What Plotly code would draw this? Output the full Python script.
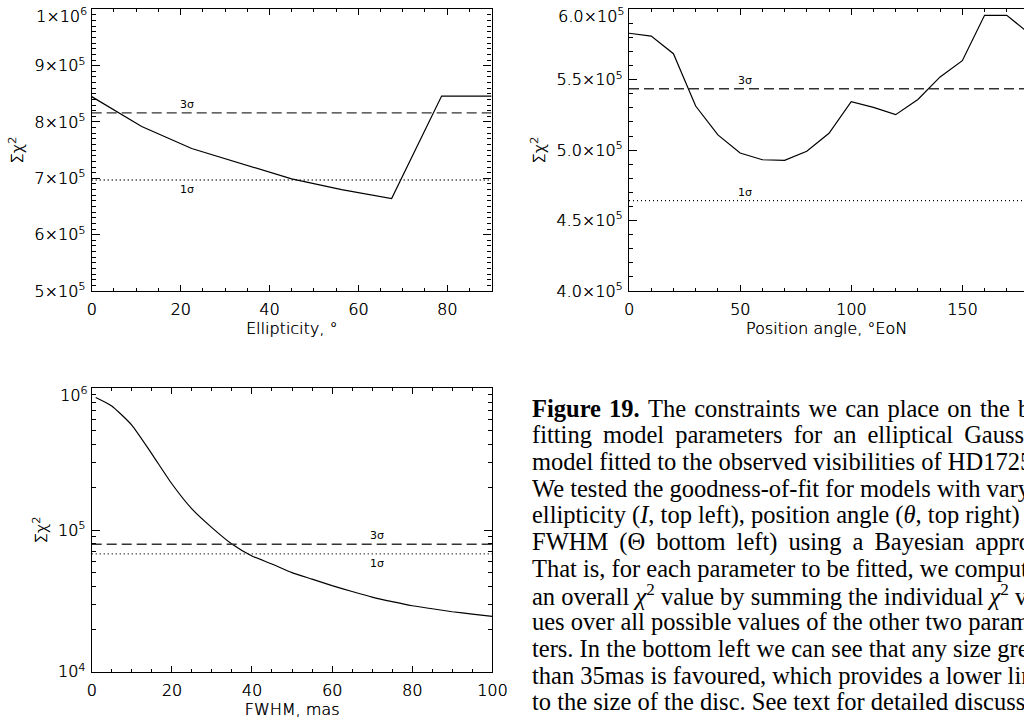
import math
import plotly.graph_objects as go

W, H = 1024, 722

# Ellipticity scan (degrees) and summed chi-squared
ell_deg = [0, 11.25, 22.5, 33.75, 45, 56.25, 67.5, 78.75, 90]
ell_chi2 = [8.45e5, 7.92e5, 7.53e5, 7.26e5, 6.99e5, 6.80e5, 6.64e5, 8.46e5, 8.46e5]
ell_sig3, ell_sig1 = 8.16e5, 6.97e5

# Position angle scan (degrees E of N)
pa_deg = [0, 10, 20, 30, 40, 50, 60, 70, 80, 90, 100, 110, 120, 130, 140, 150, 160, 170, 180]
pa_chi2 = [5.83e5, 5.81e5, 5.685e5, 5.313e5, 5.108e5, 4.98e5, 4.932e5, 4.928e5, 4.992e5,
           5.12e5, 5.344e5, 5.304e5, 5.252e5, 5.36e5, 5.52e5, 5.635e5, 5.957e5, 5.957e5, 5.83e5]
pa_sig3, pa_sig1 = 5.436e5, 4.641e5

# FWHM scan (mas)
fwhm_mas = [1, 5, 10, 15, 20, 25, 30, 35, 40, 45, 50, 55, 60, 65, 70, 75, 80, 85, 90, 95, 100]
fwhm_chi2 = [8.6e5, 7.5e5, 5.5e5, 3.45e5, 2.12e5, 1.41e5, 1.04e5, 7.96e4, 6.55e4, 5.76e4, 5.0e4,
             4.5e4, 4.05e4, 3.68e4, 3.36e4, 3.12e4, 2.92e4, 2.78e4, 2.65e4, 2.55e4, 2.46e4]
fwhm_sig3, fwhm_sig1 = 7.93e4, 6.78e4

# Tick labels (the topmost label of each panel is drawn separately, nudged inside)
ell_yticks = [5e5, 6e5, 7e5, 8e5, 9e5, 1e6]
ell_yticktext = ["5×10<sup>5</sup>", "6×10<sup>5</sup>", "7×10<sup>5</sup>",
                 "8×10<sup>5</sup>", "9×10<sup>5</sup>", "1×10<sup>6</sup>"]
pa_yticks = [4.0e5, 4.5e5, 5.0e5, 5.5e5, 6.0e5]
pa_yticktext = ["4.0×10<sup>5</sup>", "4.5×10<sup>5</sup>", "5.0×10<sup>5</sup>",
                "5.5×10<sup>5</sup>", "6.0×10<sup>5</sup>"]
fwhm_yticks = [1e4, 1e5, 1e6]
fwhm_yticktext = ["10<sup>4</sup>", "10<sup>5</sup>", "10<sup>6</sup>"]
fwhm_yminor = [m * 10 ** e for e in (4, 5) for m in range(2, 10)]

# Caption, one entry per typeset line; the second value widens word gaps
# to imitate the justified column.
caption_lines = [
    ("<b>Figure 19.</b> The constraints we can place on the best-", "\u200a"),
    ("fitting model parameters for an elliptical Gaussian", "\u2009"),
    ("model fitted to the observed visibilities of HD172555.", ""),
    ("We tested the goodness-of-fit for models with varying", ""),
    ("ellipticity (<i>I</i>, top left), position angle (<i>θ</i>, top right) and", ""),
    ("FWHM (Θ bottom left) using a Bayesian approach.", "\u2009"),
    ("That is, for each parameter to be fitted, we computed", ""),
    ("an overall <i>χ</i><sup>2</sup> value by summing the individual <i>χ</i><sup>2</sup> val-", ""),
    ("ues over all possible values of the other two parame-", ""),
    ("ters. In the bottom left we can see that any size greater", ""),
    ("than 35mas is favoured, which provides a lower limit", ""),
    ("to the size of the disc. See text for detailed discussion.", ""),
]

SANS = "DejaVu Sans"
SERIF = "Liberation Serif"
LIGHT = dict(family=SANS, size=16, color="black", weight=200, shadow="0.35px 0px 0px black")

fig = go.Figure()


def curve(x, y, xa, ya):
    fig.add_trace(go.Scatter(x=x, y=y, mode="lines", xaxis=xa, yaxis=ya,
                             line=dict(color="black", width=1.2), showlegend=False))


def level(xr, val, xa, ya, dash, color):
    fig.add_trace(go.Scatter(x=xr, y=[val, val], mode="lines", xaxis=xa, yaxis=ya,
                             line=dict(color=color, width=1.3, dash=dash), showlegend=False))


DASH = "10px,5px"
DOT = "1px,3px"

curve(ell_deg, ell_chi2, "x", "y")
level([0, 90], ell_sig3, "x", "y", DASH, "#333")
level([0, 90], ell_sig1, "x", "y", DOT, "black")

curve(pa_deg, pa_chi2, "x2", "y2")
level([0, 180], pa_sig3, "x2", "y2", DASH, "#333")
level([0, 180], pa_sig1, "x2", "y2", DOT, "black")

fig.add_trace(go.Scatter(x=fwhm_mas, y=fwhm_chi2, mode="lines", xaxis="x3", yaxis="y3",
                         line=dict(color="black", width=1.2, shape="spline", smoothing=0.5),
                         showlegend=False))
level([0, 100], fwhm_sig3, "x3", "y3", DASH, "#333")
level([0, 100], fwhm_sig1, "x3", "y3", DOT, "black")


def xaxis_cfg(dom, anchor, rng, dtick, mdtick, title, mirror=True):
    return dict(domain=dom, anchor=anchor, range=rng, dtick=dtick, tick0=0, automargin=False,
                ticks="inside", ticklen=6, tickwidth=1, tickcolor="black",
                minor=dict(dtick=mdtick, tick0=0, ticks="inside", ticklen=3, tickcolor="black"),
                showline=True, linecolor="black", linewidth=1.3, mirror="allticks" if mirror else False,
                showgrid=False, zeroline=False, tickfont=LIGHT, ticklabelstandoff=4,
                ticklabeloverflow="allow",
                title=dict(text=title, font=LIGHT, standoff=4))


def yaxis_cfg(dom, anchor, rng, vals, text, minor, typ="linear", mirror=True):
    # leave the top label blank; it is placed as an annotation below
    return dict(domain=dom, anchor=anchor, range=rng, type=typ, automargin=False,
                tickmode="array", tickvals=vals, ticktext=text[:-1] + [""],
                ticks="inside", ticklen=8, tickwidth=1, tickcolor="black",
                minor=dict(ticks="inside", ticklen=4, tickcolor="black", **minor),
                showline=True, linecolor="black", linewidth=1.3, mirror="allticks" if mirror else False,
                showgrid=False, zeroline=False, tickfont=LIGHT, ticklabelstandoff=2,
                ticklabeloverflow="allow",
                title=dict(text="Σχ<sup>2</sup>", font=LIGHT, standoff=6))


top = [1 - 291 / H, 1 - 9.3 / H]
bot = [1 - 671.7 / H, 1 - 388.3 / H]

fig.update_layout(
    width=W, height=H, margin=dict(l=0, r=0, t=0, b=0, autoexpand=False),
    paper_bgcolor="white", plot_bgcolor="white",
    xaxis=xaxis_cfg([91.7 / W, 491.6 / W], "y", [0, 90], 20, 5, "Ellipticity, °"),
    yaxis=yaxis_cfg(top, "x", [5e5, 1e6], ell_yticks, ell_yticktext, dict(dtick=1e4, tick0=0)),
    xaxis2=xaxis_cfg([629 / W, 1.0], "y2", [0, 177.75], 50, 10, "Position angle, °EoN"),
    yaxis2=yaxis_cfg(top, "x2", [4e5, 6e5], pa_yticks, pa_yticktext, dict(dtick=1e4, tick0=0),
                     mirror=False),
    yaxis4=dict(overlaying="y2", anchor="free", position=1.0, side="right", range=[4e5, 6e5],
                tickmode="array", tickvals=pa_yticks, showticklabels=False, automargin=False,
                ticks="inside", ticklen=3, tickcolor="black", showline=False, showgrid=False,
                zeroline=False),
    xaxis3=xaxis_cfg([91.7 / W, 492.3 / W], "y3", [0, 100], 20, 5, "FWHM, mas"),
    yaxis3=yaxis_cfg(bot, "x3", [4, 6], fwhm_yticks, fwhm_yticktext,
                     dict(tickmode="array", tickvals=fwhm_yminor), typ="log"),
)

# topmost y tick labels, nudged just below their tick so they stay on the page
for xa, ya, yv, txt in [("x", "y", ell_yticks[-1], ell_yticktext[-1]),
                        ("x2", "y2", pa_yticks[-1], pa_yticktext[-1]),
                        ("x3", "y3", math.log10(fwhm_yticks[-1]), fwhm_yticktext[-1])]:
    fig.add_annotation(x=0, y=yv, xref=xa, yref=ya, text=txt, showarrow=False,
                       xanchor="right", yanchor="middle", xshift=-3, yshift=-6, font=LIGHT)

# sigma level labels
sig_font = dict(family=SANS, size=11, color="black")
labels = [
    ("x", "y", 21.4, ell_sig3, "3σ", "bottom"),
    ("x", "y", 21.4, ell_sig1, "1σ", "top"),
    ("x2", "y2", 52.2, pa_sig3, "3σ", "bottom"),
    ("x2", "y2", 52.2, pa_sig1, "1σ", "bottom"),
    ("x3", "y3", 71.1, fwhm_sig3, "3σ", "bottom"),
    ("x3", "y3", 71.1, fwhm_sig1, "1σ", "top"),
]
for xa, ya, xv, yv, txt, anc in labels:
    yy = math.log10(yv) if ya == "y3" else yv
    fig.add_annotation(x=xv, y=yy, xref=xa, yref=ya, text=txt, showarrow=False,
                       xanchor="center", yanchor=anc, font=sig_font,
                       yshift=0 if anc == "bottom" else -1)

# caption
for i, (line, pad) in enumerate(caption_lines):
    fig.add_annotation(x=530 / W, y=1 - (408.3 + i * 26.67) / H, xref="paper", yref="paper",
                       text=line.replace(" ", " " + pad), showarrow=False,
                       xanchor="left", yanchor="middle", align="left",
                       font=dict(family=SERIF, size=24.5, color="black"))

fig.write_html("out.html")
